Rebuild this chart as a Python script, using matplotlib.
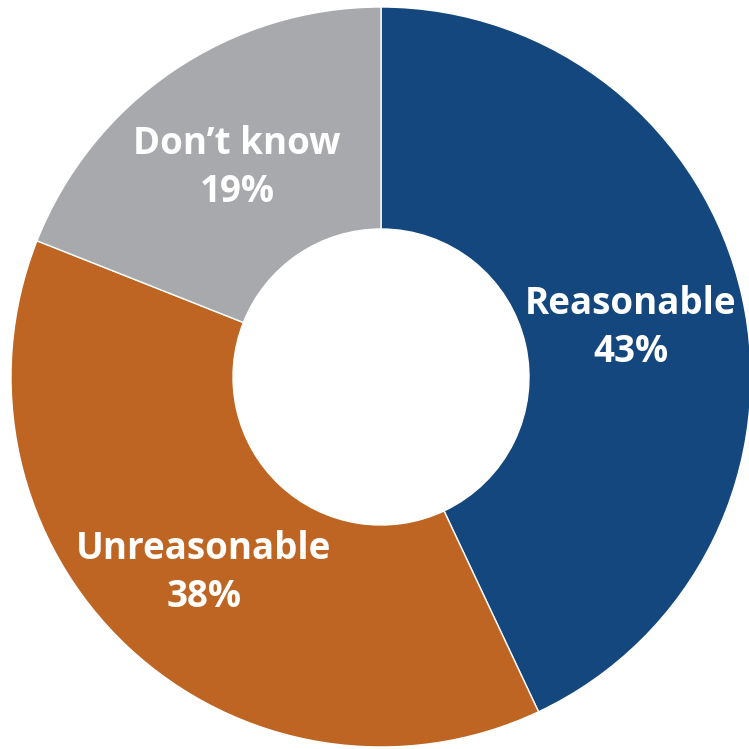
import matplotlib
matplotlib.use("Agg")
import matplotlib.pyplot as plt

categories = ["Reasonable", "Unreasonable", "Don\u2019t know"]
values = [43, 38, 19]
colors = ["#13477D", "#BF6524", "#A7A9AC"]
label_px = [(631, 328), (204, 573), (237, 168)]

fig = plt.figure(figsize=(7.49, 7.49), dpi=100)
cx, cy, R = 381, 377, 370
W = 749
ax = fig.add_axes([(cx - R) / W, (W - cy - R) / W, 2 * R / W, 2 * R / W])
ax.pie(values, colors=colors, startangle=90, counterclock=False, radius=1,
       wedgeprops=dict(width=0.6, edgecolor="white", linewidth=1))
ax.set_xlim(-1, 1)
ax.set_ylim(-1, 1)
ax.set_aspect("equal")
ax.axis("off")

for cat, v, (px, py) in zip(categories, values, label_px):
    x = (px - cx) / R
    y = (cy - py) / R
    ax.text(x, y, f"{cat}\n{v}%", ha="center", va="center", color="white",
            fontsize=26.5, fontweight="bold", family=["Open Sans", "DejaVu Sans"],
            linespacing=1.35)

fig.savefig("out.png", dpi=100)
